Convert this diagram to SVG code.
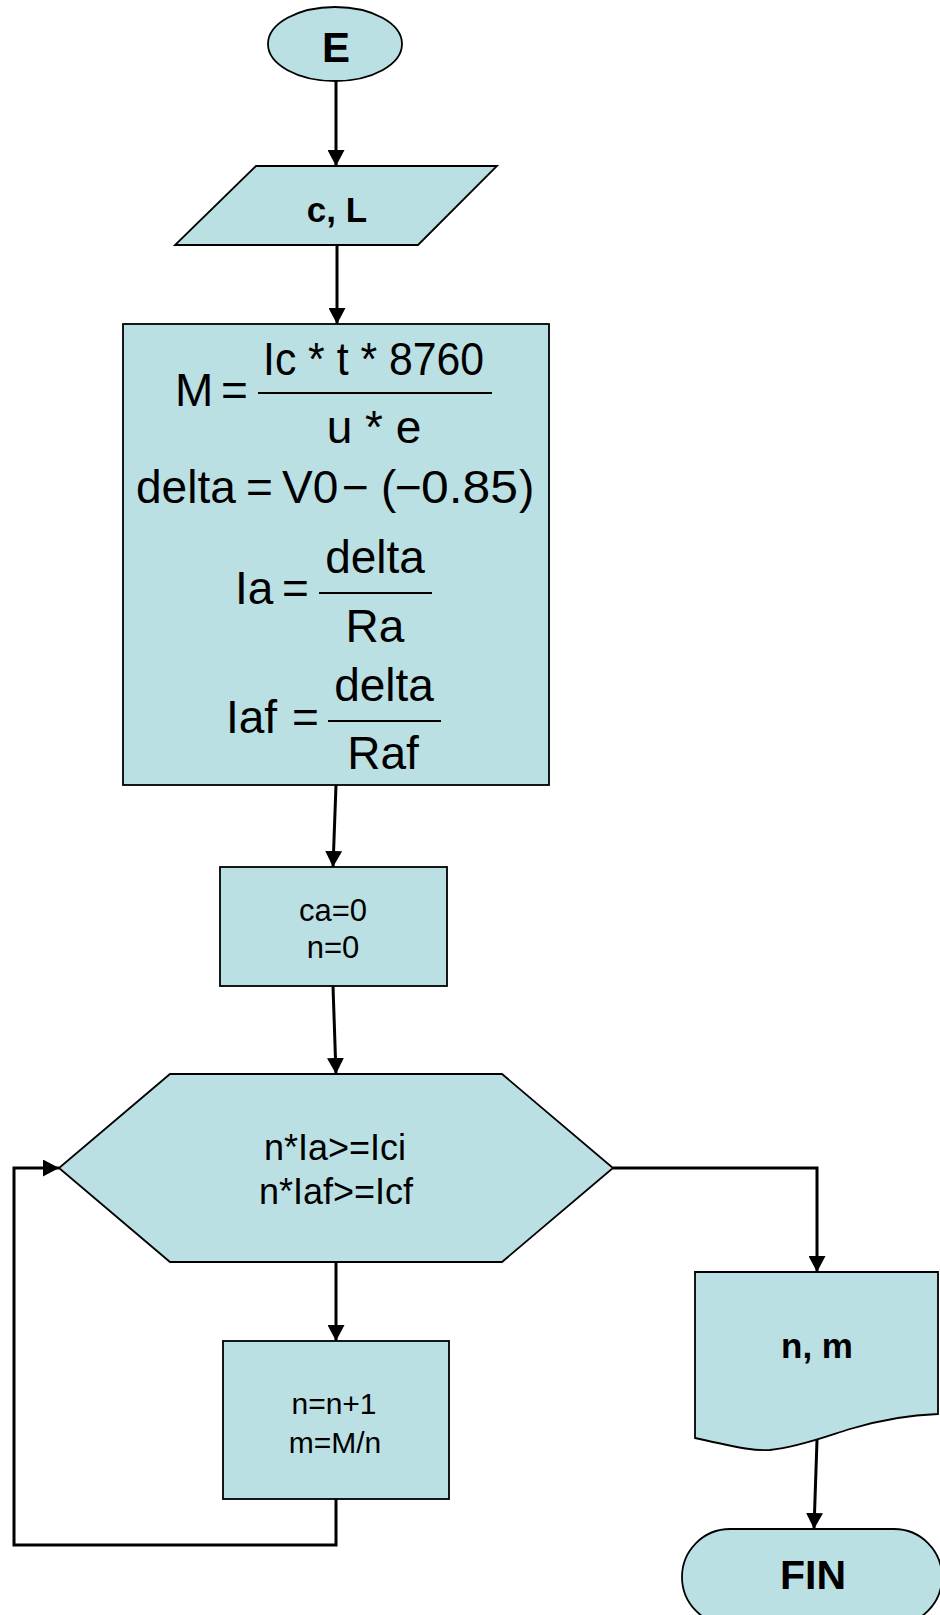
<svg xmlns="http://www.w3.org/2000/svg" width="940" height="1615" viewBox="0 0 940 1615">
  <defs>
    <marker id="arrow" markerUnits="userSpaceOnUse" markerWidth="17" markerHeight="17" refX="16" refY="8.5" orient="auto">
      <path d="M0,0 L16,8.5 L0,17 Z" fill="#000"/>
    </marker>
    <style>
      .shape { fill: #BBE0E3; stroke: #000; stroke-width: 1.8; }
      .link { fill: none; stroke: #000; stroke-width: 3; }
      .bar { stroke: #000; stroke-width: 1.8; }
      .t { font-family: "Liberation Sans", Arial, sans-serif; fill: #000; }
      .b { font-weight: bold; }
      .eq { font-family: "Liberation Sans", Arial, sans-serif; font-size: 46px; fill: #000; }
      .mid { text-anchor: middle; }
    </style>
  </defs>

  <rect width="940" height="1615" fill="#fff"/>

  <!-- connectors -->
  <g id="connectors">
    <path class="link" d="M336,81 L336,166" marker-end="url(#arrow)"/>
    <path class="link" d="M337,245 L337,324" marker-end="url(#arrow)"/>
    <path class="link" d="M336,785 L333,867" marker-end="url(#arrow)"/>
    <path class="link" d="M333,986 L336,1074" marker-end="url(#arrow)"/>
    <path class="link" d="M336,1262 L336,1341" marker-end="url(#arrow)"/>
    <path class="link" d="M336,1499 L336,1545 L14,1545 L14,1168 L59,1168" marker-end="url(#arrow)"/>
    <path class="link" d="M613,1168 L817,1168 L817,1272" marker-end="url(#arrow)"/>
    <path class="link" d="M817,1440 L814,1529" marker-end="url(#arrow)"/>
  </g>

  <!-- start -->
  <g id="start">
    <ellipse class="shape" cx="335" cy="44" rx="67" ry="37"/>
    <text class="t b mid" x="336" y="62" font-size="42">E</text>
  </g>

  <!-- input -->
  <g id="input">
    <polygon class="shape" points="256,166 497,166 418,245 175,245"/>
    <text class="t b mid" x="337" y="222" font-size="35">c, L</text>
  </g>

  <!-- formulas -->
  <g id="formulas">
    <rect class="shape" x="123" y="324" width="426" height="461"/>
    <text class="eq" x="175" y="406">M</text>
    <text class="eq" x="221" y="406">=</text>
    <text class="eq" x="263" y="375" textLength="221" lengthAdjust="spacingAndGlyphs">Ic * t * 8760</text>
    <line class="bar" x1="258" y1="393" x2="492" y2="393"/>
    <text class="eq mid" x="374" y="443">u * e</text>

    <text class="eq" y="503"><tspan x="136">delta</tspan><tspan x="246">=</tspan><tspan x="282">V0</tspan><tspan x="342">−</tspan><tspan x="381">(</tspan><tspan x="395">−</tspan><tspan x="421" textLength="97" lengthAdjust="spacingAndGlyphs">0.85</tspan><tspan x="519">)</tspan></text>

    <text class="eq" x="235" y="604">Ia</text>
    <text class="eq" x="282" y="604">=</text>
    <text class="eq mid" x="375" y="573">delta</text>
    <line class="bar" x1="319" y1="593" x2="432" y2="593"/>
    <text class="eq mid" x="375" y="642">Ra</text>

    <text class="eq" x="226" y="733">Iaf</text>
    <text class="eq" x="292" y="733">=</text>
    <text class="eq mid" x="384" y="701">delta</text>
    <line class="bar" x1="328" y1="721" x2="441" y2="721"/>
    <text class="eq mid" x="383" y="769">Raf</text>
  </g>

  <!-- init -->
  <g id="init">
    <rect class="shape" x="220" y="867" width="227" height="119"/>
    <text class="t mid" x="333" y="921" font-size="31">ca=0</text>
    <text class="t mid" x="333" y="958" font-size="31">n=0</text>
  </g>

  <!-- condition -->
  <g id="condition">
    <polygon class="shape" points="170,1074 502,1074 613,1168 502,1262 170,1262 59,1168"/>
    <text class="t mid" x="335" y="1160" font-size="36">n*Ia&gt;=Ici</text>
    <text class="t mid" x="336" y="1204" font-size="36">n*Iaf&gt;=Icf</text>
  </g>

  <!-- step -->
  <g id="step">
    <rect class="shape" x="223" y="1341" width="226" height="158"/>
    <text class="t mid" x="334" y="1414" font-size="30">n=n+1</text>
    <text class="t mid" x="335" y="1453" font-size="30">m=M/n</text>
  </g>

  <!-- output -->
  <g id="output">
    <path class="shape" d="M695,1272 L938,1272 L938,1414 C905,1415 880,1420 850,1429 C830,1435 800,1447 770,1450 C755,1451 745,1449 695,1438 Z"/>
    <text class="t b mid" x="817" y="1358" font-size="35">n, m</text>
  </g>

  <!-- end -->
  <g id="end">
    <rect class="shape" x="682" y="1529" width="260" height="96" rx="48" ry="48"/>
    <text class="t b mid" x="813" y="1589" font-size="41">FIN</text>
  </g>
</svg>
